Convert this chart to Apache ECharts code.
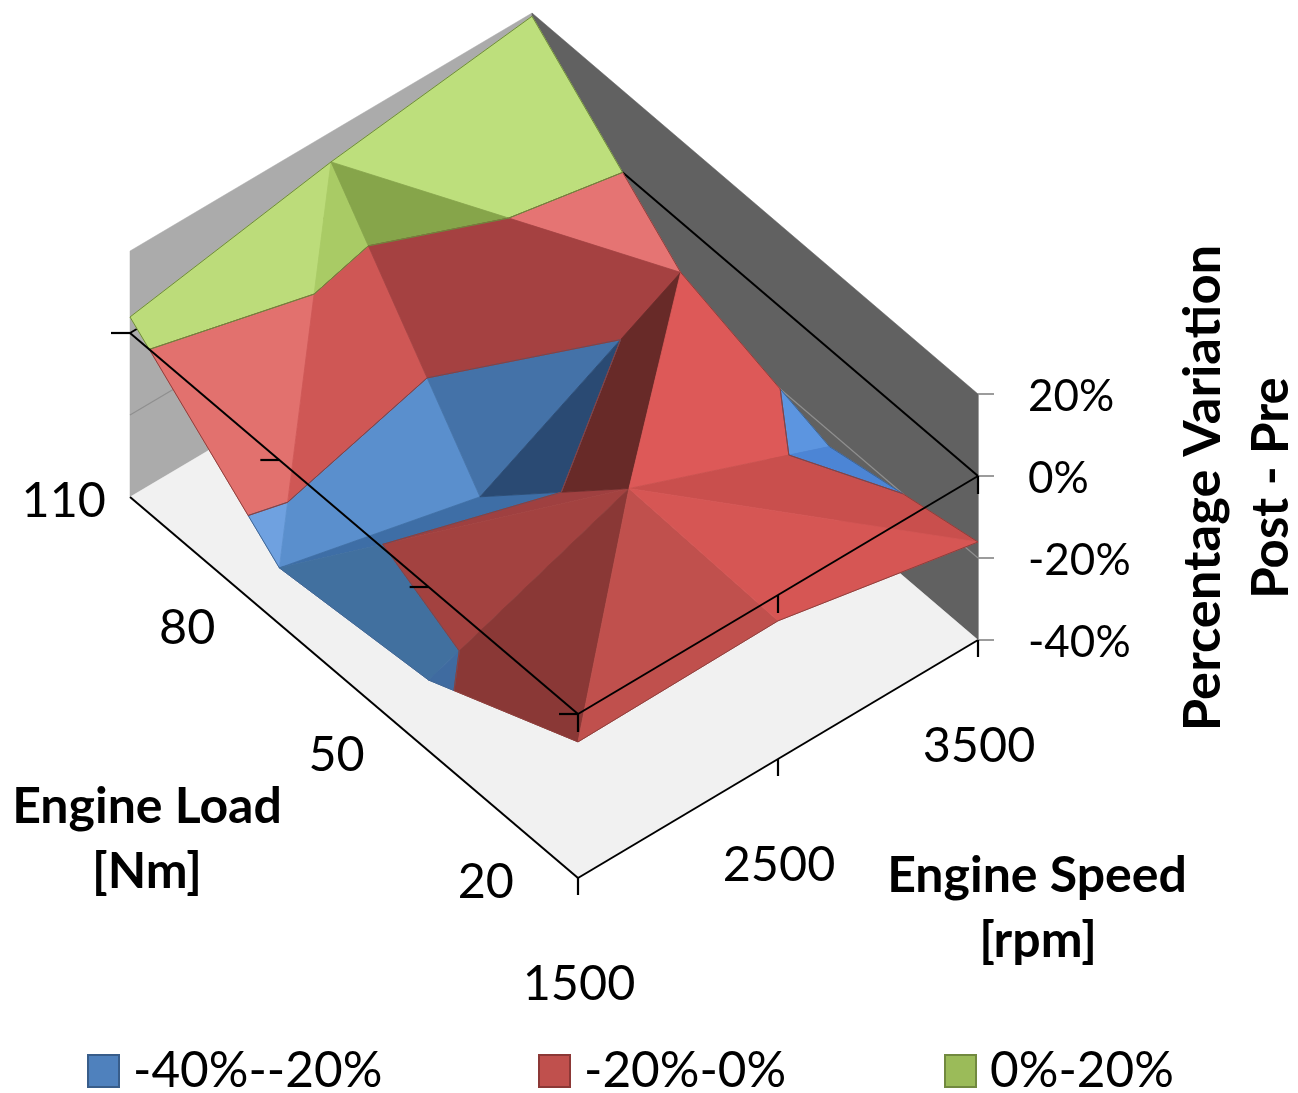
<!DOCTYPE html>
<html>
<head>
<meta charset="utf-8">
<style>html,body{margin:0;padding:0;background:#fff}#c{width:1298px;height:1093px}</style>
<script src="https://cdn.jsdelivr.net/npm/echarts@6/dist/echarts.min.js"></script>
</head>
<body>
<div id="c"></div>
<script>
// ---- data ----
const speeds = [1500, 2500, 3500];
const loads = [20, 50, 80, 110];
const valuesLoad20 = [-6.8, -6.3, -16.1];
const valuesLoad50 = [-22.7, -5, -23.8];
const valuesLoad80 = [-26.3, -38, -12.3];
const valuesLoad110 = [3.9, 12.7, 19.2];
const pctTicks = [-40, -20, 0, 20];
const bandNames = ['-40%--20%', '-20%-0%', '0%-20%'];
const bandLimits = [[-40, -20], [-20, 0], [0, 20]];
// each facet: three [loadIndex, speedIndex] corners
const facets = [
  [[3,0],[3,1],[2,0]], [[3,1],[2,1],[2,0]],
  [[3,1],[3,2],[2,2]], [[3,1],[2,2],[2,1]],
  [[2,0],[2,1],[1,1]], [[2,0],[1,1],[1,0]],
  [[2,1],[2,2],[1,1]], [[2,2],[1,2],[1,1]],
  [[1,0],[1,1],[0,0]], [[1,1],[0,1],[0,0]],
  [[1,1],[1,2],[0,2]], [[1,1],[0,2],[0,1]]
];
// facet shades, per band [blue, red, green]
const facetShades = [
  ['#6fa1e0','#e2716e','#bcdc7a'], ['#5a8fcd','#cf5755','#a9cb65'],
  ['#5a8fcd','#e57473','#bddf7c'], ['#4472a8','#a54141','#86a54a'],
  ['#3e6ea6','#9f4040','#86a54a'], ['#41709f','#a34240','#86a54a'],
  ['#2a4a73','#682a28','#86a54a'], ['#5c95e0','#dd5958','#a9cb65'],
  ['#3f6ba0','#8a3836','#86a54a'], ['#3f6ba0','#c0504d','#86a54a'],
  ['#4c85d5','#c94f4d','#a9cb65'], ['#4c85d5','#d65654','#a9cb65']
];
const bandEdge = ['#3f6594', '#8e3f3c', '#6f8a3c'];
const bandLegend = ['#4f81bd', '#c0504d', '#9bbb59'];
const legendBorder = ['#385d8a', '#8c3836', '#71893f'];

const surface = [valuesLoad20, valuesLoad50, valuesLoad80, valuesLoad110];
const FONT = 'Lato';
const LOAD_MIN = loads[0], LOAD_MAX = loads[loads.length - 1];
const SP_MIN = speeds[0], SP_MAX = speeds[speeds.length - 1];

// oblique view: x/y axes give the plane at the highest speed; shear adds the two ground directions
function project(api, speed, load, pct) {
  const p = api.coord([speed, pct]);
  const t = (load - LOAD_MIN) / (LOAD_MAX - LOAD_MIN);
  const s = (speed - SP_MIN) / (SP_MAX - SP_MIN);
  return [p[0] - 448 * t + 2 * s * t, p[1] + 238 * (1 - s) - 381 * t];
}

function clipAbove(poly, level, sign) {
  const out = [];
  for (let i = 0; i < poly.length; i++) {
    const a = poly[i], b = poly[(i + 1) % poly.length];
    const da = (a[2] - level) * sign, db = (b[2] - level) * sign;
    if (da >= 0) out.push(a);
    if ((da > 0 && db < 0) || (da < 0 && db > 0)) {
      const u = da / (da - db);
      out.push([a[0] + (b[0] - a[0]) * u, a[1] + (b[1] - a[1]) * u, level]);
    }
  }
  return out;
}

function bandRender(band) {
  return function (params, api) {
    const f = facets[api.value(0)];
    let poly = f.map(c => [speeds[c[1]], loads[c[0]], surface[c[0]][c[1]]]);
    const lim = bandLimits[band];
    poly = clipAbove(poly, lim[0], 1);
    poly = clipAbove(poly, lim[1], -1);
    if (poly.length < 3) return null;
    const fill = facetShades[api.value(0)][band];
    const pts = poly.map(v => project(api, v[0], v[1], v[2]));
    const children = [{
      type: 'polygon', shape: { points: pts },
      style: { fill: fill, stroke: fill, lineWidth: 0.8 }, z2: 1
    }];
    for (let i = 0; i < poly.length; i++) {
      const a = poly[i], b = poly[(i + 1) % poly.length];
      const onContour = a[2] === b[2] && (a[2] === lim[0] || a[2] === lim[1]);
      const onRim = (a[0] === b[0] && (a[0] === SP_MIN || a[0] === SP_MAX)) ||
                    (a[1] === b[1] && (a[1] === LOAD_MIN || a[1] === LOAD_MAX));
      if (onContour || onRim) {
        children.push({
          type: 'polyline',
          shape: { points: [pts[i], pts[(i + 1) % pts.length]] },
          style: { fill: null, stroke: bandEdge[band], lineWidth: 1 }, z2: 2
        });
      }
    }
    return { type: 'group', children: children };
  };
}

function line(api, a, b, color, width) {
  return {
    type: 'polyline',
    shape: { points: [project(api, a[0], a[1], a[2]), project(api, b[0], b[1], b[2])] },
    style: { fill: null, stroke: color, lineWidth: width }
  };
}

function poly3(api, corners, fill) {
  return {
    type: 'polygon',
    shape: { points: corners.map(c => project(api, c[0], c[1], c[2])) },
    style: { fill: fill, stroke: fill, lineWidth: 0.5 }
  };
}

function backdrop(params, api) {
  const lo = pctTicks[0], hi = pctTicks[pctTicks.length - 1];
  const kids = [
    poly3(api, [[SP_MIN, LOAD_MAX, lo], [SP_MAX, LOAD_MAX, lo], [SP_MAX, LOAD_MAX, hi], [SP_MIN, LOAD_MAX, hi]], '#ababab'),
    poly3(api, [[SP_MAX, LOAD_MIN, lo], [SP_MAX, LOAD_MAX, lo], [SP_MAX, LOAD_MAX, hi], [SP_MAX, LOAD_MIN, hi]], '#616161'),
    poly3(api, [[SP_MIN, LOAD_MIN, lo], [SP_MAX, LOAD_MIN, lo], [SP_MAX, LOAD_MAX, lo], [SP_MIN, LOAD_MAX, lo]], '#f1f1f1')
  ];
  pctTicks.slice(1, -1).forEach(p => {
    const c = p === 0 ? '#000' : '#8f8f8f', w = p === 0 ? 2 : 1.2;
    kids.push(line(api, [SP_MIN, LOAD_MAX, p], [SP_MAX, LOAD_MAX, p], c, w));
    kids.push(line(api, [SP_MAX, LOAD_MIN, p], [SP_MAX, LOAD_MAX, p], c, w));
  });
  return { type: 'group', children: kids };
}

function tickMark(api, at, dx, dy) {
  const p = project(api, at[0], at[1], at[2]);
  return {
    type: 'polyline',
    shape: { points: [p, [p[0] + dx, p[1] + dy]] },
    style: { fill: null, stroke: '#000', lineWidth: 2.2 }
  };
}

function overlay(params, api) {
  const lo = pctTicks[0];
  const kids = [
    line(api, [SP_MIN, LOAD_MIN, lo], [SP_MAX, LOAD_MIN, lo], '#000', 2),
    line(api, [SP_MIN, LOAD_MIN, lo], [SP_MIN, LOAD_MAX, lo], '#000', 2),
    line(api, [SP_MIN, LOAD_MIN, 0], [SP_MAX, LOAD_MIN, 0], '#000', 2),
    line(api, [SP_MIN, LOAD_MIN, 0], [SP_MIN, LOAD_MAX, 0], '#000', 2)
  ];
  speeds.forEach(sp => {
    kids.push(tickMark(api, [sp, LOAD_MIN, lo], 0, 17));
    kids.push(tickMark(api, [sp, LOAD_MIN, 0], 0, 18));
    const p = project(api, sp, LOAD_MIN, lo);
    kids.push({ type: 'text', style: {
      text: String(sp), x: p[0] + 1, y: p[1] + 106, fill: '#000',
      fontFamily: FONT, fontSize: 48.5, textAlign: 'center', textVerticalAlign: 'middle' } });
  });
  loads.forEach(ld => {
    kids.push(tickMark(api, [SP_MIN, ld, 0], -19, 0));
    const p = project(api, SP_MIN, ld, lo);
    kids.push({ type: 'text', style: {
      text: String(ld), x: Math.max(p[0] - 64, 106), y: p[1] + 4, fill: '#000',
      fontFamily: FONT, fontSize: 48.5, textAlign: 'right', textVerticalAlign: 'middle' } });
  });
  return { type: 'group', children: kids };
}

const facetIndex = facets.map((_, i) => [i]);
const titleText = (x, y, text, size, rotation) => ({
  type: 'text', x: x, y: y, rotation: rotation || 0,
  style: { text: text, fontFamily: FONT, fontWeight: 'bold', fontSize: size, fill: '#000', textAlign: 'center', textVerticalAlign: 'middle' }
});

const option = {
  animation: false,
  backgroundColor: '#fff',
  grid: { left: 578, width: 400, top: 394, height: 246 },
  xAxis: { type: 'value', min: SP_MIN, max: SP_MAX, show: false },
  yAxis: {
    type: 'value', position: 'right', min: -40, max: 20, interval: 20,
    axisLine: { show: true, lineStyle: { color: '#9c9c9c', width: 1.5 } },
    axisTick: { show: true, length: 16, lineStyle: { color: '#9c9c9c', width: 2 } },
    splitLine: { show: false },
    axisLabel: { formatter: v => v + '%', margin: 50, color: '#000', fontFamily: FONT, fontSize: 44, align: 'left', verticalAlign: 'top', lineHeight: 6 }
  },
  legend: bandNames.map((n, i) => ({
    left: [87, 538, 944][i], top: 1046, padding: 0, data: [n], icon: 'rect', itemWidth: 31, itemHeight: 32,
    selectedMode: false,
    textStyle: { color: '#000', fontFamily: FONT, fontSize: 49.5, padding: [0, 0, 0, 9] }
  })),
  graphic: [
    titleText(147, 807, 'Engine Load', 50),
    titleText(147, 872, '[Nm]', 50),
    titleText(1037, 876, 'Engine Speed', 50),
    titleText(1038, 941, '[rpm]', 50),
    titleText(1203, 488, 'Percentage Variation', 52.5, Math.PI / 2),
    titleText(1272, 488, 'Post - Pre', 51, Math.PI / 2)
  ],
  series: [
    { type: 'custom', name: 'walls', z: 1, silent: true, renderItem: backdrop, data: [[0]] }
  ].concat(bandNames.map((n, i) => ({
    type: 'custom', name: n, z: 2, renderItem: bandRender(i), data: facetIndex,
    itemStyle: { color: bandLegend[i], borderColor: legendBorder[i], borderWidth: 2 }
  }))).concat([
    { type: 'custom', name: 'axes', z: 3, silent: true, renderItem: overlay, data: [[0]] }
  ])
};
echarts.init(document.getElementById('c'), null, { renderer: 'canvas' }).setOption(option);
</script>
</body>
</html>
